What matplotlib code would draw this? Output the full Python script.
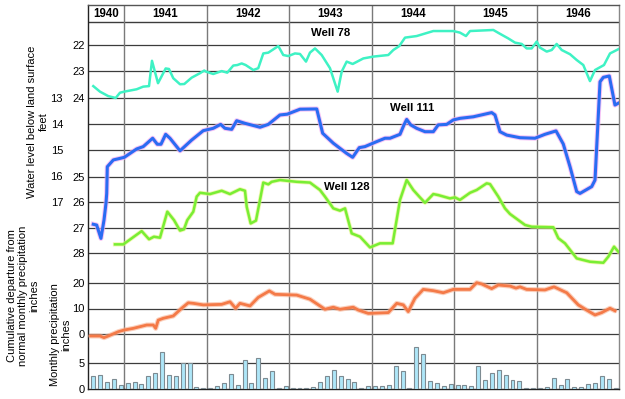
import matplotlib.pyplot as plt
import numpy as np

plt.rcParams['font.family'] = ['Liberation Sans', 'DejaVu Sans']

# ---- data (time in decimal years) ----
years = [1940, 1941, 1942, 1943, 1944, 1945, 1946]

well78_t = [1940.624, 1940.705, 1940.806, 1940.896, 1940.948, 1941.0, 1941.150, 1941.230,
            1941.300, 1941.336, 1941.409, 1941.454, 1941.502, 1941.542, 1941.594, 1941.676,
            1941.728, 1941.817, 1941.918, 1941.970, 1941.991, 1942.079, 1942.181, 1942.249,
            1942.322, 1942.371, 1942.424, 1942.472, 1942.565, 1942.625, 1942.686, 1942.747,
            1942.868, 1942.928, 1942.989, 1943.070, 1943.131, 1943.204, 1943.252, 1943.313,
            1943.394, 1943.495, 1943.588, 1943.637, 1943.697, 1943.770, 1943.899, 1944.020,
            1944.202, 1944.263, 1944.335, 1944.405, 1944.546, 1944.748, 1944.990, 1945.071,
            1945.144, 1945.193, 1945.476, 1945.548, 1945.657, 1945.739, 1945.820, 1945.880,
            1945.941, 1946.002, 1946.042, 1946.123, 1946.184, 1946.244, 1946.305, 1946.406,
            1946.487, 1946.567, 1946.648, 1946.709, 1946.818, 1946.891, 1946.992]
well78_ft = [23.56, 23.77, 23.94, 24.01, 23.81, 23.77, 23.68, 23.58,
             23.56, 22.60, 23.45, 23.18, 22.89, 22.91, 23.26, 23.49,
             23.48, 23.24, 23.07, 22.97, 23.01, 23.10, 22.99, 23.05,
             22.78, 22.76, 22.70, 22.76, 22.95, 22.88, 22.32, 22.29,
             22.04, 22.38, 22.42, 22.32, 22.34, 22.63, 22.29, 22.13,
             22.38, 22.88, 23.77, 23.01, 22.63, 22.72, 22.51, 22.44,
             22.38, 22.19, 22.04, 21.72, 21.66, 21.47, 21.47, 21.53,
             21.66, 21.47, 21.43, 21.56, 21.75, 21.91, 21.96, 22.13,
             22.13, 21.87, 22.10, 22.25, 22.19, 21.96, 22.19, 22.35,
             22.57, 22.76, 23.37, 22.95, 22.76, 22.32, 22.16]

well111_t = [1940.624, 1940.665, 1940.717, 1940.754, 1940.778, 1940.787, 1940.794, 1940.867,
             1940.948, 1941.0, 1941.150, 1941.230, 1941.344, 1941.400, 1941.445, 1941.502,
             1941.554, 1941.676, 1941.817, 1941.958, 1942.079, 1942.169, 1942.221, 1942.303,
             1942.363, 1942.464, 1942.646, 1942.747, 1942.888, 1942.977, 1943.131, 1943.334,
             1943.406, 1943.535, 1943.697, 1943.770, 1943.850, 1943.919, 1944.061, 1944.162,
             1944.223, 1944.344, 1944.392, 1944.425, 1944.474, 1944.546, 1944.647, 1944.748,
             1944.808, 1944.910, 1944.990, 1945.071, 1945.233, 1945.456, 1945.496, 1945.557,
             1945.638, 1945.799, 1945.981, 1946.102, 1946.236, 1946.324, 1946.406, 1946.487,
             1946.527, 1946.669, 1946.709, 1946.770, 1946.810, 1946.882, 1946.951, 1946.992]
well111_ft = [17.84, 17.87, 18.38, 17.68, 17.04, 16.66, 15.64, 15.38,
              15.32, 15.28, 14.96, 14.87, 14.55, 14.78, 14.78, 14.40,
              14.55, 15.03, 14.62, 14.26, 14.17, 14.02, 14.17, 14.21,
              13.88, 13.98, 14.13, 14.02, 13.66, 13.63, 13.44, 13.43,
              14.36, 14.74, 15.13, 15.28, 14.91, 14.87, 14.68, 14.55,
              14.55, 14.40, 14.04, 13.83, 14.04, 14.17, 14.30, 14.30,
              14.04, 14.02, 13.85, 13.79, 13.73, 13.57, 13.66, 14.30,
              14.43, 14.53, 14.55, 14.40, 14.27, 14.77, 15.64, 16.59,
              16.66, 16.40, 16.15, 12.39, 12.22, 12.17, 13.28, 13.21]

well128_t = [1940.887, 1940.988, 1941.211, 1941.300, 1941.360, 1941.433, 1941.522, 1941.603,
             1941.676, 1941.724, 1941.764, 1941.837, 1941.878, 1941.918, 1942.039, 1942.181,
             1942.282, 1942.403, 1942.464, 1942.485, 1942.533, 1942.597, 1942.646, 1942.686,
             1942.747, 1942.788, 1942.888, 1943.091, 1943.252, 1943.373, 1943.434, 1943.535,
             1943.616, 1943.677, 1943.758, 1943.859, 1943.980, 1944.101, 1944.255, 1944.344,
             1944.425, 1944.505, 1944.586, 1944.647, 1944.748, 1944.808, 1944.950, 1945.011,
             1945.071, 1945.193, 1945.274, 1945.395, 1945.436, 1945.536, 1945.617, 1945.678,
             1945.860, 1945.941, 1946.203, 1946.264, 1946.345, 1946.487, 1946.648, 1946.810,
             1946.871, 1946.940, 1946.992]
well128_ft = [27.65, 27.65, 27.13, 27.45, 27.35, 27.39, 26.37, 26.70,
              27.11, 27.06, 26.70, 26.37, 25.78, 25.63, 25.68, 25.55,
              25.68, 25.49, 25.55, 26.18, 26.83, 26.72, 25.91, 25.23,
              25.30, 25.20, 25.13, 25.20, 25.23, 25.52, 25.78, 26.24,
              26.33, 26.24, 27.22, 27.35, 27.77, 27.61, 27.61, 25.91,
              25.13, 25.52, 25.81, 26.02, 25.68, 25.72, 25.85, 25.81,
              25.91, 25.63, 25.52, 25.26, 25.29, 25.78, 26.24, 26.46,
              26.89, 26.96, 26.98, 27.41, 27.61, 28.20, 28.33, 28.37,
              28.13, 27.74, 27.94]

cum_t = [1940.592, 1940.705, 1940.754, 1940.806, 1940.927, 1941.0, 1941.109, 1941.272,
         1941.352, 1941.381, 1941.412, 1941.473, 1941.594, 1941.696, 1941.776, 1941.837,
         1941.958, 1942.181, 1942.282, 1942.351, 1942.403, 1942.525, 1942.625, 1942.759,
         1942.828, 1943.091, 1943.252, 1943.434, 1943.535, 1943.616, 1943.777, 1943.838,
         1943.959, 1944.202, 1944.304, 1944.384, 1944.444, 1944.526, 1944.626, 1944.748,
         1944.869, 1944.990, 1945.193, 1945.274, 1945.335, 1945.456, 1945.536, 1945.678,
         1945.751, 1945.799, 1945.880, 1946.102, 1946.212, 1946.366, 1946.506, 1946.607,
         1946.709, 1946.790, 1946.891, 1946.951]
cum_in = [-0.66, -0.66, -1.3, -0.66, 1.0, 1.67, 2.3, 3.6,
          3.6, 2.3, 5.5, 6.2, 7.1, 10.1, 12.2, 12.0,
          11.4, 11.6, 12.6, 10.1, 12.0, 11.0, 14.3, 16.8,
          15.5, 15.2, 13.6, 9.7, 10.5, 9.7, 10.5, 9.4,
          8.1, 8.4, 12.0, 11.4, 8.8, 14.0, 17.4, 16.9,
          16.1, 17.4, 17.4, 20.0, 19.5, 17.7, 19.1, 18.7,
          17.9, 18.4, 17.4, 17.2, 18.4, 16.1, 11.4, 9.4,
          7.5, 8.4, 10.1, 9.1]

# monthly precipitation, August 1940 .. December 1946
precip_first_month = 1940 + 7 / 12
precip_in = [2.5, 2.75, 1.35, 1.9, 0.83,
             1.15, 1.3, 0.96, 2.5, 3.1, 7.05, 2.75, 2.5, 5.0, 5.0, 0.4, 0.15,
             0.15, 0.65, 1.15, 2.9, 0.77, 5.6, 1.15, 5.95, 2.1, 3.45, 0.15, 0.6,
             0.1, 0.2, 0.1, 0.4, 1.35, 2.4, 3.65, 2.4, 1.9, 1.35, 0.1, 0.6,
             0.6, 0.6, 0.75, 4.4, 3.45, 0.1, 8.0, 6.65, 1.5, 1.1, 0.6, 0.95,
             0.77, 0.77, 0.6, 4.4, 1.7, 3.1, 3.7, 2.7, 1.7, 1.55, 0.1, 0.1,
             0.1, 0.4, 2.1, 0.77, 1.9, 0.4, 0.4, 0.9, 1.15, 2.5, 1.9, 0.15]

# ---- layout (pixel rows of the 625x399 picture) ----
PX_TOP, PX_BOT = 5, 389
HEADER_ROW = 22
GRID = '#3c3c3c'

fig = plt.figure(figsize=(6.25, 3.99), dpi=100)
ax = fig.add_axes([88 / 625, (399 - PX_BOT) / 399, 531 / 625, (PX_BOT - PX_TOP) / 399])
ax.set_xlim(1940.56, 1947.0)
ax.set_ylim(PX_BOT, PX_TOP)
ax.set_yticks([])
ax.set_xticks(years[1:])
ax.tick_params(axis='x', length=0, labelbottom=False)
ax.grid(axis='x', color='#7a7a7a', lw=1.0, zorder=0)
ax.axhline(HEADER_ROW, color=GRID, lw=1.0, zorder=0)
ax.spines['left'].set_color('#222222')
ax.spines['bottom'].set_color('#222222')
ax.spines['top'].set_color('#555555')
ax.spines['right'].set_color('#888888')
for s in ax.spines.values():
    s.set_linewidth(1.0)

# year header
x0, x1 = ax.get_xlim()
for y in years:
    lo, hi = max(y, x0), min(y + 1, x1)
    ax.text((lo + hi) / 2, (PX_TOP + HEADER_ROW) / 2 + 0.5, str(y), ha='center', va='center',
            fontsize=8.3, fontweight='bold')


def overlay(v0, r0, v1, r1, ticks, pad, grid_ticks):
    # transparent axes whose value scale puts v0 on pixel row r0 and v1 on row r1
    b = (r1 - r0) / (v1 - v0)
    tw = ax.twinx()
    tw.yaxis.tick_left()
    tw.set_ylim(v0 + (PX_BOT - r0) / b, v0 + (PX_TOP - r0) / b)
    tw.set_yticks(ticks)
    tw.set_yticklabels([str(t) for t in ticks])
    tw.tick_params(axis='y', length=0, pad=pad, labelsize=8)
    for s in tw.spines.values():
        s.set_visible(False)
    for t in grid_ticks:
        ax.axhline(r0 + (t - v0) * b, color=GRID, lw=0.9, zorder=0)
    return tw


ax_p = overlay(0, 389, 5, 362.7, [0, 5], 2.5, [5])
ax_c = overlay(0, 334.3, 20, 282.7, [0, 10, 20], 2.5, [0, 10, 20])
ax_128 = overlay(25, 176.7, 28, 253.3, [25, 26, 27, 28], 2.5, [25, 26, 27, 28])
ax_78 = overlay(22, 45, 24, 97.7, [22, 23, 24], 2.5, [22, 23, 24])
ax_111 = overlay(13, 97.7, 17, 202.3, [13, 14, 15, 16, 17], 18, [14, 15])

# monthly precipitation bars
months = precip_first_month + (np.arange(len(precip_in)) + 0.5) / 12
ax_p.bar(months, precip_in, width=0.58 / 12, color='#aee6f8', edgecolor='#7d8b92', lw=0.8)

# cumulative departure
ax_c.plot(cum_t, cum_in, color='#f9b090', lw=3.6, alpha=0.6, solid_capstyle='round')
ax_c.plot(cum_t, cum_in, color='#f47a48', lw=2.0, solid_joinstyle='round')

# wells
ax_128.plot(well128_t, well128_ft, color='#e4f27a', lw=3.0, alpha=0.6)
ax_128.plot(well128_t, well128_ft, color='#78ee34', lw=1.8, solid_joinstyle='round')
ax_78.plot(well78_t, well78_ft, color='#3ef2c4', lw=1.8, solid_joinstyle='round')
ax_111.plot(well111_t, well111_ft, color='#f2a8f2', lw=3.6, alpha=0.7)
ax_111.plot(well111_t, well111_ft, color='#2a6cf2', lw=2.2, solid_joinstyle='round')

ax_78.text(1943.507, 21.54, 'Well 78', ha='center', va='center', fontsize=8.2, fontweight='bold')
ax_111.text(1944.489, 13.39, 'Well 111', ha='center', va='center', fontsize=8.2, fontweight='bold')
ax_128.text(1943.701, 25.40, 'Well 128', ha='center', va='center', fontsize=8.2, fontweight='bold')

# axis titles
fig.text(38 / 625, 1 - 122 / 399, 'Water level below land surface\nfeet', rotation=90,
         ha='center', va='center', fontsize=8, linespacing=1.15)
fig.text(23.5 / 625, 1 - 296 / 399, 'Cumulative departure from\nnormal monthly precipitation\ninches',
         rotation=90, ha='center', va='center', fontsize=8, linespacing=1.15)
fig.text(61 / 625, 1 - 335 / 399, 'Monthly precipitation\ninches', rotation=90,
         ha='center', va='center', fontsize=8, linespacing=1.15)

fig.savefig('out.png', dpi=100)
